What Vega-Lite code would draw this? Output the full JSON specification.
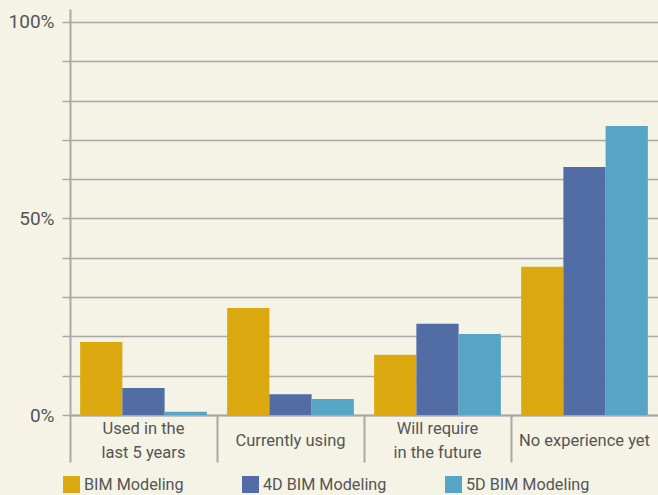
{
  "$schema": "https://vega.github.io/schema/vega-lite/v6.json",
  "width": 588,
  "height": 406,
  "autosize": {"type": "none"},
  "padding": {"left": 70, "top": 9, "right": 0, "bottom": 80},
  "background": "#f4f3e6",
  "config": {
    "view": {"stroke": null},
    "font": "Roboto",
    "axis": {"labelFont": "Roboto", "labelColor": "#555555"},
    "legend": {"labelFont": "Roboto", "labelColor": "#555555"}
  },
  "data": {
    "values": [
      {"category": "Used in the last 5 years", "series": "BIM Modeling", "value": 18.6},
      {"category": "Used in the last 5 years", "series": "4D BIM Modeling", "value": 6.9},
      {"category": "Used in the last 5 years", "series": "5D BIM Modeling", "value": 0.8},
      {"category": "Currently using", "series": "BIM Modeling", "value": 27.2},
      {"category": "Currently using", "series": "4D BIM Modeling", "value": 5.3},
      {"category": "Currently using", "series": "5D BIM Modeling", "value": 4.1},
      {"category": "Will require in the future", "series": "BIM Modeling", "value": 15.3},
      {"category": "Will require in the future", "series": "4D BIM Modeling", "value": 23.2},
      {"category": "Will require in the future", "series": "5D BIM Modeling", "value": 20.6},
      {"category": "No experience yet", "series": "BIM Modeling", "value": 37.7},
      {"category": "No experience yet", "series": "4D BIM Modeling", "value": 63.1},
      {"category": "No experience yet", "series": "5D BIM Modeling", "value": 73.5}
    ]
  },
  "mark": {"type": "bar"},
  "encoding": {
    "x": {
      "field": "category",
      "type": "nominal",
      "sort": ["Used in the last 5 years", "Currently using", "Will require in the future", "No experience yet"],
      "scale": {"paddingInner": 0, "paddingOuter": 0},
      "axis": {
        "title": null,
        "labelAngle": 0,
        "bandPosition": 0,
        "tickSize": 47,
        "tickColor": "#a8a8a8",
        "tickWidth": 2,
        "domainColor": "#a8a8a8",
        "domainWidth": 2,
        "labelFontSize": 16.5,
        "labelBaseline": "middle",
        "labelPadding": {
          "condition": {"test": "datum.value == 'Used in the last 5 years' || datum.value == 'Will require in the future'", "value": -34},
          "value": -22
        },
        "labelLineHeight": 24,
        "labelExpr": "datum.label == 'Used in the last 5 years' ? ['Used in the', 'last 5 years'] : datum.label == 'Will require in the future' ? ['Will require', 'in the future'] : datum.label"
      }
    },
    "xOffset": {
      "field": "series",
      "type": "nominal",
      "sort": ["BIM Modeling", "4D BIM Modeling", "5D BIM Modeling"],
      "scale": {"paddingInner": 0, "paddingOuter": 0.24}
    },
    "y": {
      "field": "value",
      "type": "quantitative",
      "scale": {"domain": [0, 103.3], "nice": false},
      "axis": {
        "title": null,
        "values": [0, 10, 20, 30, 40, 50, 60, 70, 80, 90, 100],
        "labelExpr": "datum.value % 50 == 0 ? datum.value + '%' : ''",
        "grid": true,
        "gridColor": "#a8a8a8",
        "gridWidth": 1.5,
        "tickColor": "#a8a8a8",
        "tickWidth": 1.5,
        "tickSize": 8,
        "domainColor": "#a8a8a8",
        "domainWidth": 2,
        "labelFontSize": 19,
        "labelPadding": 8
      }
    },
    "color": {
      "field": "series",
      "type": "nominal",
      "sort": ["BIM Modeling", "4D BIM Modeling", "5D BIM Modeling"],
      "scale": {
        "domain": ["BIM Modeling", "4D BIM Modeling", "5D BIM Modeling"],
        "range": ["#dca80f", "#526ca6", "#57a5c6"]
      },
      "legend": {
        "title": null,
        "orient": "none",
        "direction": "horizontal",
        "legendX": -7,
        "legendY": 467,
        "symbolType": "square",
        "symbolSize": 289,
        "symbolStrokeWidth": 0,
        "symbolOpacity": 1,
        "labelFontSize": 16.2,
        "labelOffset": 4,
        "columnPadding": 58
      }
    }
  }
}
